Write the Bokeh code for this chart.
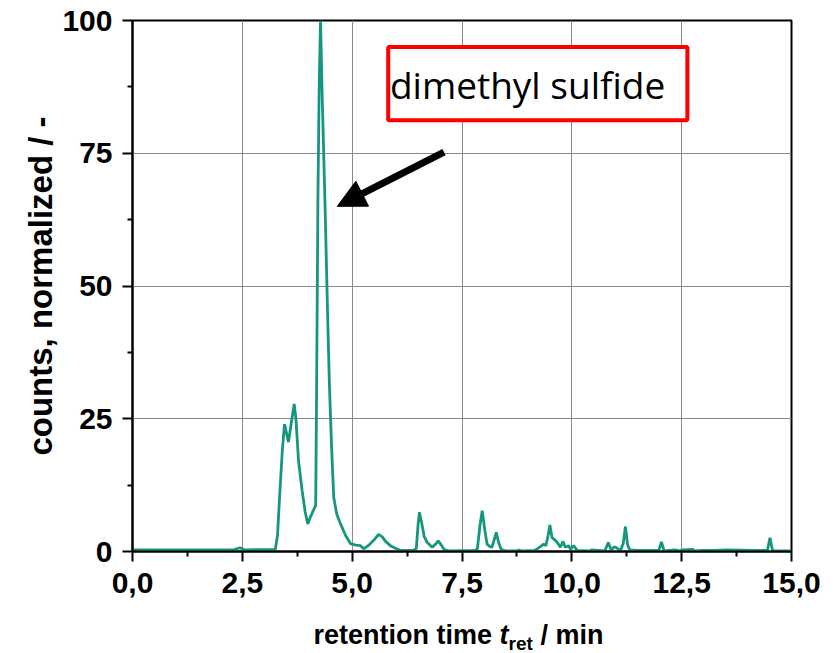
from bokeh.plotting import figure
from bokeh.layouts import column
from bokeh.models import (Range1d, FixedTicker, Label, BoxAnnotation, Arrow, NormalHead, Div)
from bokeh.embed import file_html
from bokeh.resources import INLINE

# ---- data ----
time_min = [0.0, 2.3, 2.45, 2.55, 3.25, 3.30, 3.36, 3.41, 3.46, 3.50, 3.55, 3.61, 3.68, 3.72, 3.78,
            3.86, 3.93, 3.99, 4.05, 4.12, 4.17, 4.19, 4.22, 4.25, 4.28, 4.32, 4.38, 4.44, 4.48, 4.53,
            4.58, 4.65, 4.73, 4.85, 4.96, 5.08, 5.19, 5.26, 5.38, 5.50, 5.60, 5.68, 5.76, 5.87, 5.95,
            6.10, 6.40, 6.46, 6.50, 6.53, 6.58, 6.64, 6.71, 6.82, 6.90, 6.96, 7.03, 7.09, 7.20, 7.80,
            7.85, 7.91, 7.96, 8.02, 8.07, 8.14, 8.18, 8.24, 8.28, 8.33, 8.39, 8.50, 8.75, 8.80, 8.85,
            9.15, 9.21, 9.30, 9.36, 9.41, 9.46, 9.50, 9.55, 9.61, 9.67, 9.74, 9.80, 9.85, 9.93, 9.97,
            10.04, 10.12, 10.40, 10.45, 10.75, 10.83, 10.90, 10.96, 11.02, 11.10, 11.17, 11.22, 11.27,
            11.32, 11.50, 11.98, 12.04, 12.10, 12.35, 12.45, 12.50, 12.75, 12.80, 13.00, 13.20, 13.55,
            14.15, 14.45, 14.51, 14.57, 15.0]
counts_norm = [0.3, 0.3, 0.7, 0.3, 0.4, 3.0, 12.0, 19.0, 24.0, 22.5, 20.6, 24.0, 27.8, 25.0, 17.0,
               11.5, 7.5, 5.2, 6.5, 7.8, 8.7, 30.0, 66.0, 88.0, 100.0, 85.0, 66.0, 45.0, 32.0, 20.0,
               10.2, 7.0, 5.3, 3.0, 1.5, 1.2, 1.1, 0.5, 1.2, 2.2, 3.2, 2.8, 1.9, 1.1, 0.75,
               0.2, 0.2, 0.6, 5.0, 7.4, 5.5, 2.8, 1.7, 0.8, 1.4, 2.0, 1.2, 0.4, 0.1, 0.2,
               0.5, 5.0, 7.7, 4.0, 1.4, 0.9, 0.8, 2.4, 3.6, 1.8, 0.4, 0.1, 0.1, 0.3, 0.1,
               0.2, 0.5, 1.0, 1.4, 1.1, 3.0, 5.0, 2.6, 2.2, 1.7, 0.8, 1.9, 0.8, 1.1, 0.4,
               1.1, 0.2, 0.1, 0.3, 0.1, 1.7, 0.2, 0.9, 0.7, 0.1, 1.5, 4.7, 1.2,
               0.3, 0.2, 0.2, 1.8, 0.1, 0.3, 0.1, 0.3, 0.4, 0.1, 0.2, 0.2, 0.3,
               0.2, 0.2, 2.6, 0.1, 0.1]

x_ticks = [0.0, 2.5, 5.0, 7.5, 10.0, 12.5, 15.0]
x_tick_labels = ["0,0", "2,5", "5,0", "7,5", "10,0", "12,5", "15,0"]
y_ticks = [0, 25, 50, 75, 100]
y_tick_labels = ["0", "25", "50", "75", "100"]

annotation_text = "dimethyl sulfide"
x_title_parts = ["retention time ", "t", "ret", " / min"]
y_title = "counts, normalized / -"

FONT = "Liberation Sans"
TEAL = "#15977f"

p = figure(width=825, height=605, output_backend="svg", toolbar_location=None,
           x_range=Range1d(0, 15), y_range=Range1d(0, 100),
           min_border_left=132, min_border_right=34, min_border_top=20, min_border_bottom=54)
p.background_fill_color = "white"
p.border_fill_color = "white"
p.outline_line_color = "black"
p.outline_line_width = 2

x_minor = [(a + b) / 2 for a, b in zip(x_ticks[:-1], x_ticks[1:])]
y_minor = [(a + b) / 2 for a, b in zip(y_ticks[:-1], y_ticks[1:])]
p.xaxis.ticker = FixedTicker(ticks=x_ticks, minor_ticks=x_minor)
p.yaxis.ticker = FixedTicker(ticks=y_ticks, minor_ticks=y_minor)
p.xaxis.major_label_overrides = {t: l for t, l in zip(x_ticks, x_tick_labels)}
p.yaxis.major_label_overrides = {t: l for t, l in zip(y_ticks, y_tick_labels)}

for ax in (p.xaxis, p.yaxis):
    ax.axis_line_width = 2
    ax.axis_line_color = "black"
    ax.major_tick_line_width = 2
    ax.minor_tick_line_width = 2
    ax.major_tick_in = 0
    ax.major_tick_out = 10
    ax.minor_tick_in = 0
    ax.minor_tick_out = 5
    ax.major_label_text_font = FONT
    ax.major_label_text_font_style = "bold"
    ax.major_label_text_font_size = "30px"
    ax.major_label_text_color = "black"
p.xaxis.major_label_standoff = 11
p.yaxis.major_label_standoff = 10

p.yaxis.axis_label = y_title
p.yaxis.axis_label_text_font = FONT
p.yaxis.axis_label_text_font_style = "bold"
p.yaxis.axis_label_text_font_size = "33px"
p.yaxis.axis_label_text_color = "black"
p.yaxis.axis_label_standoff = 0

p.grid.grid_line_color = "#8a8a8a"
p.grid.grid_line_width = 1

p.line(time_min, counts_norm, line_color=TEAL, line_width=2.8)

# annotation box with text
box = BoxAnnotation(left=5.82, right=12.63, bottom=81.2, top=95.0,
                    fill_color="white", fill_alpha=1.0, line_color="#ff0000",
                    line_alpha=1.0, line_width=4)
p.add_layout(box)
p.add_layout(Label(x=5.86, y=88.0, text=annotation_text, text_font="Open Sans",
                   text_font_size="37px", text_color="black", text_baseline="alphabetic"))
p.add_layout(Arrow(x_start=7.09, y_start=75.2, x_end=4.66, y_end=65.0, line_width=7,
                   line_color="black",
                   end=NormalHead(size=28, fill_color="black", line_color="black", line_width=1)))

xtitle_html = (
    f'<div style="width:825px; padding-left:92px; box-sizing:border-box; text-align:center; '
    f'font-family:\'{FONT}\'; font-weight:bold; font-size:27px; line-height:30px; color:black;">'
    f'{x_title_parts[0]}<i>{x_title_parts[1]}</i>'
    f'<sub style="font-size:19px; vertical-align:-6px;">{x_title_parts[2]}</sub>{x_title_parts[3]}</div>'
)
xtitle = Div(text=xtitle_html, width=825, height=44, margin=(15, 0, 0, 0))

layout = column(p, xtitle, spacing=0)
open("out.html", "w").write(file_html(layout, INLINE))
